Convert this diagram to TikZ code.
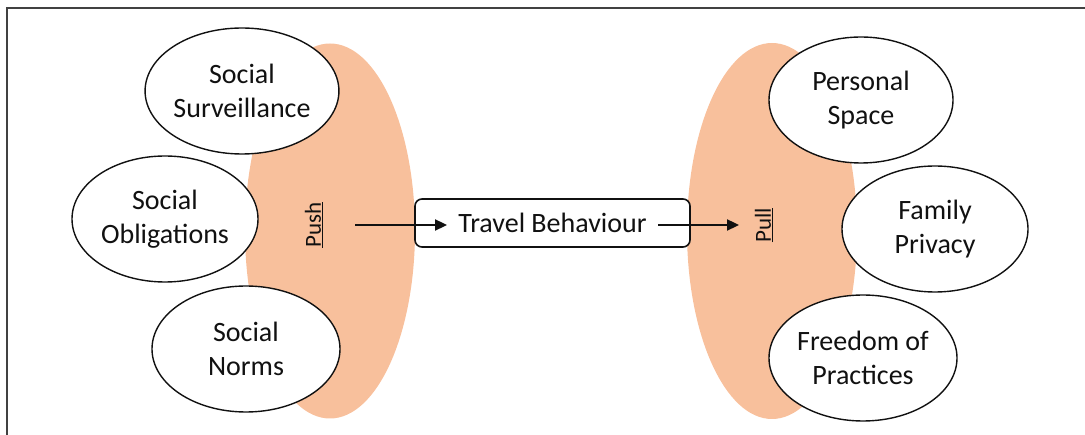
\documentclass[tikz,border=0pt]{standalone}
\usepackage{fontspec}
\setmainfont{Carlito}
\usetikzlibrary{shapes.geometric,arrows.meta}
\definecolor{blob}{HTML}{F8C09C}
\definecolor{ink}{HTML}{111111}
\tikzset{
  blobshape/.style={ellipse, fill=blob, draw=none, inner sep=0pt},
  factor/.style={ellipse, draw=ink, line width=1.4pt, fill=white, inner sep=0pt,
    align=center, font=\fontsize{28}{34}\selectfont, text=ink},
  lbl/.style={rotate=90, font=\fontsize{23}{27}\selectfont, text=ink},
  flow/.style={draw=ink, line width=2.3pt, -{Triangle[length=12pt,width=11pt]}},
  mainbox/.style={draw=ink, line width=1.6pt, fill=white, rounded corners=7pt,
    minimum width=275pt, minimum height=48pt, inner sep=0pt,
    font=\fontsize{28}{34}\selectfont, text=ink}
}
\begin{document}
\begin{tikzpicture}[x=1pt,y=-1pt]
\useasboundingbox (0,0) rectangle (1085,435);
\draw[line width=1.5pt, draw=ink!80] (7,8) rectangle (1095,445);
% orange blobs
\node[blobshape, minimum width=170pt, minimum height=375pt] (pushblob) at (330,231) {};
\node[blobshape, minimum width=170pt, minimum height=376pt] (pullblob) at (772,231) {};
% left factors
\node[factor, minimum width=182pt, minimum height=126pt] (surv) at (242,91) {Social\\Surveillance};
\node[factor, minimum width=186pt, minimum height=126pt] (oblig) at (165,219) {Social\\Obligations};
\node[factor, minimum width=188pt, minimum height=126pt] (norms) at (246,349) {Social\\Norms};
% right factors
\node[factor, minimum width=184pt, minimum height=126pt] (space) at (861,100) {Personal\\Space};
\node[factor, minimum width=186pt, minimum height=126pt] (family) at (935,229) {Family\\Privacy};
\node[factor, minimum width=188pt, minimum height=126pt] (freedom) at (863,358) {Freedom of\\Practices};
% labels
\node[lbl] (push) at (314,225) {\underline{Push}};
\node[lbl] (pull) at (764,225) {\underline{Pull}};
% main box
\node[mainbox] (travel) at (552.5,223) {Travel Behaviour};
% arrows
\coordinate (a1s) at (355,225);
\coordinate (a1e) at (447,225);
\coordinate (a2s) at (658,225);
\coordinate (a2e) at (739,225);
\draw[flow] (a1s) -- (a1e);
\draw[flow] (a2s) -- (a2e);
\end{tikzpicture}
\end{document}
